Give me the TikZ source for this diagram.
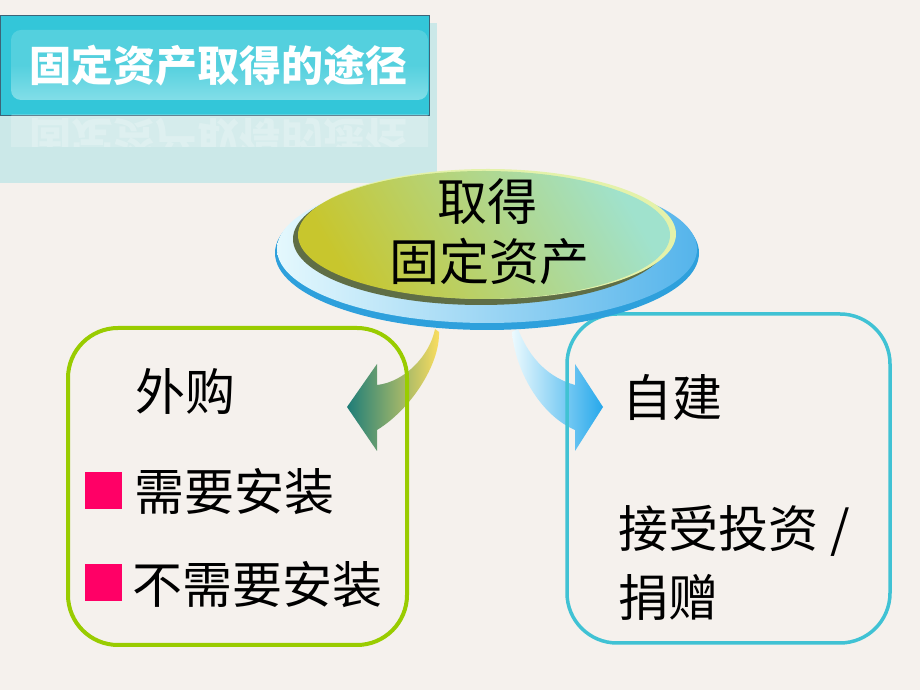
\documentclass[tikz,border=0pt]{standalone}
\usepackage{fontspec}
\newfontfamily\cjk{Noto Sans CJK SC}
\usetikzlibrary{shapes.geometric}
\definecolor{bg}{RGB}{245,241,237}
\definecolor{titleouter}{RGB}{51,198,217}
\definecolor{titleinner}{RGB}{84,208,222}
\definecolor{titlelow}{RGB}{130,222,232}
\definecolor{titleedge}{RGB}{60,100,120}
\definecolor{reflect}{RGB}{203,232,232}
\definecolor{leftgreen}{RGB}{153,204,0}
\definecolor{rightcyan}{RGB}{64,194,212}
\definecolor{pinkbox}{RGB}{255,0,102}
\definecolor{rimblue}{RGB}{46,160,220}
\definecolor{outerlight}{RGB}{228,248,253}
\definecolor{outerdark}{RGB}{85,180,235}
\definecolor{innerolive}{RGB}{95,110,70}
\definecolor{inneryellow}{RGB}{200,198,45}
\definecolor{innermint}{RGB}{160,226,205}
\definecolor{innerrim}{RGB}{228,242,170}
\definecolor{arrowteal}{RGB}{30,125,120}
\definecolor{arrowyellow}{RGB}{252,222,95}
\definecolor{arrowwhite}{RGB}{236,250,254}
\definecolor{arrowblue}{RGB}{38,168,235}
\tikzset{
  bigtext/.style={inner sep=0pt, font=\cjk\fontsize{50}{60}\selectfont, text=black},
  boxframe/.style={rounded corners=50pt, fill=none, inner sep=0pt},
  bullet/.style={fill=pinkbox, minimum size=37pt, inner sep=0pt}
}
\begin{document}
\begin{tikzpicture}[x=1pt,y=1pt]
\useasboundingbox (0,0) rectangle (920,690);
\fill[bg] (0,0) rectangle (920,690);
% title with reflection
\fill[reflect] (0,507) rectangle (437,667);
\node[draw=titleedge, line width=1pt, fill=titleouter, minimum width=429pt, minimum height=100pt, inner sep=0pt, anchor=north west] (titlebox) at (0,675) {};
\shade[rounded corners=10pt, top color=titleinner, bottom color=titlelow, middle color=titleinner] (11,660) rectangle (428,590);
\begin{scope}
  \clip (0,543) rectangle (437,575);
  \fill[white, opacity=0.2, rounded corners=10pt] (11,583) rectangle (428,530);
  \node[yscale=-1, text=white, opacity=0.22, font=\cjk\bfseries\fontsize{42}{50}\selectfont, inner sep=0pt] (titlemirror) at (218,552) {固定资产取得的途径};
\end{scope}
\node[text=white, font=\cjk\bfseries\fontsize{42}{50}\selectfont, inner sep=0pt] (title) at (218,624) {固定资产取得的途径};
% arrows
\shade[left color=arrowteal, right color=arrowyellow]
  (347,283) -- (377,326) -- (377,305)
  .. controls (405,308) and (430,335) .. (435,361)
  -- (439,358)
  .. controls (440,325) and (410,280) .. (377,260)
  -- (377,239) -- cycle;
\shade[left color=arrowwhite, right color=arrowblue]
  (603,283) -- (575,326) -- (575,305)
  .. controls (550,312) and (530,330) .. (518,361)
  -- (512,358)
  .. controls (515,320) and (540,275) .. (575,260)
  -- (575,239) -- cycle;
% boxes
\node[boxframe, draw=leftgreen, line width=4pt, minimum width=339pt, minimum height=317pt] (buy) at (237.5,203.5) {};
\node[boxframe, draw=rightcyan, line width=3.5pt, minimum width=323pt, minimum height=329pt] (build) at (728.5,211.5) {};
% central ellipse
\fill[rimblue] (487,437) ellipse (212 and 77);
\shade[left color=outerlight, right color=outerdark] (487,441) ellipse (210 and 74);
\fill[innerolive] (481,451) ellipse (188 and 66);
\fill[innerrim] (488,456) ellipse (188 and 65);
\shade[shading=axis, bottom color=inneryellow, top color=innermint, shading angle=-60] (484,455) ellipse (186 and 64);
\node[bigtext] (get) at (487,488) {取得};
\node[bigtext] (asset) at (489,428) {固定资产};
% left texts
\node[bigtext, anchor=west] (waigou) at (135,298) {外购};
\node[bullet] (b1) at (103.5,199) {};
\node[bigtext, anchor=west] (need) at (134,198) {需要安装};
\node[bullet] (b2) at (103.5,107) {};
\node[bigtext, anchor=west] (noneed) at (132,105) {不需要安装};
% right texts
\node[bigtext, anchor=west] (zijian) at (622,293) {自建};
\node[bigtext, anchor=west] (invest) at (618,159) {接受投资\hspace{12pt}/};
\node[bigtext, anchor=west] (donate) at (618,93) {捐赠};
\end{tikzpicture}
\end{document}
